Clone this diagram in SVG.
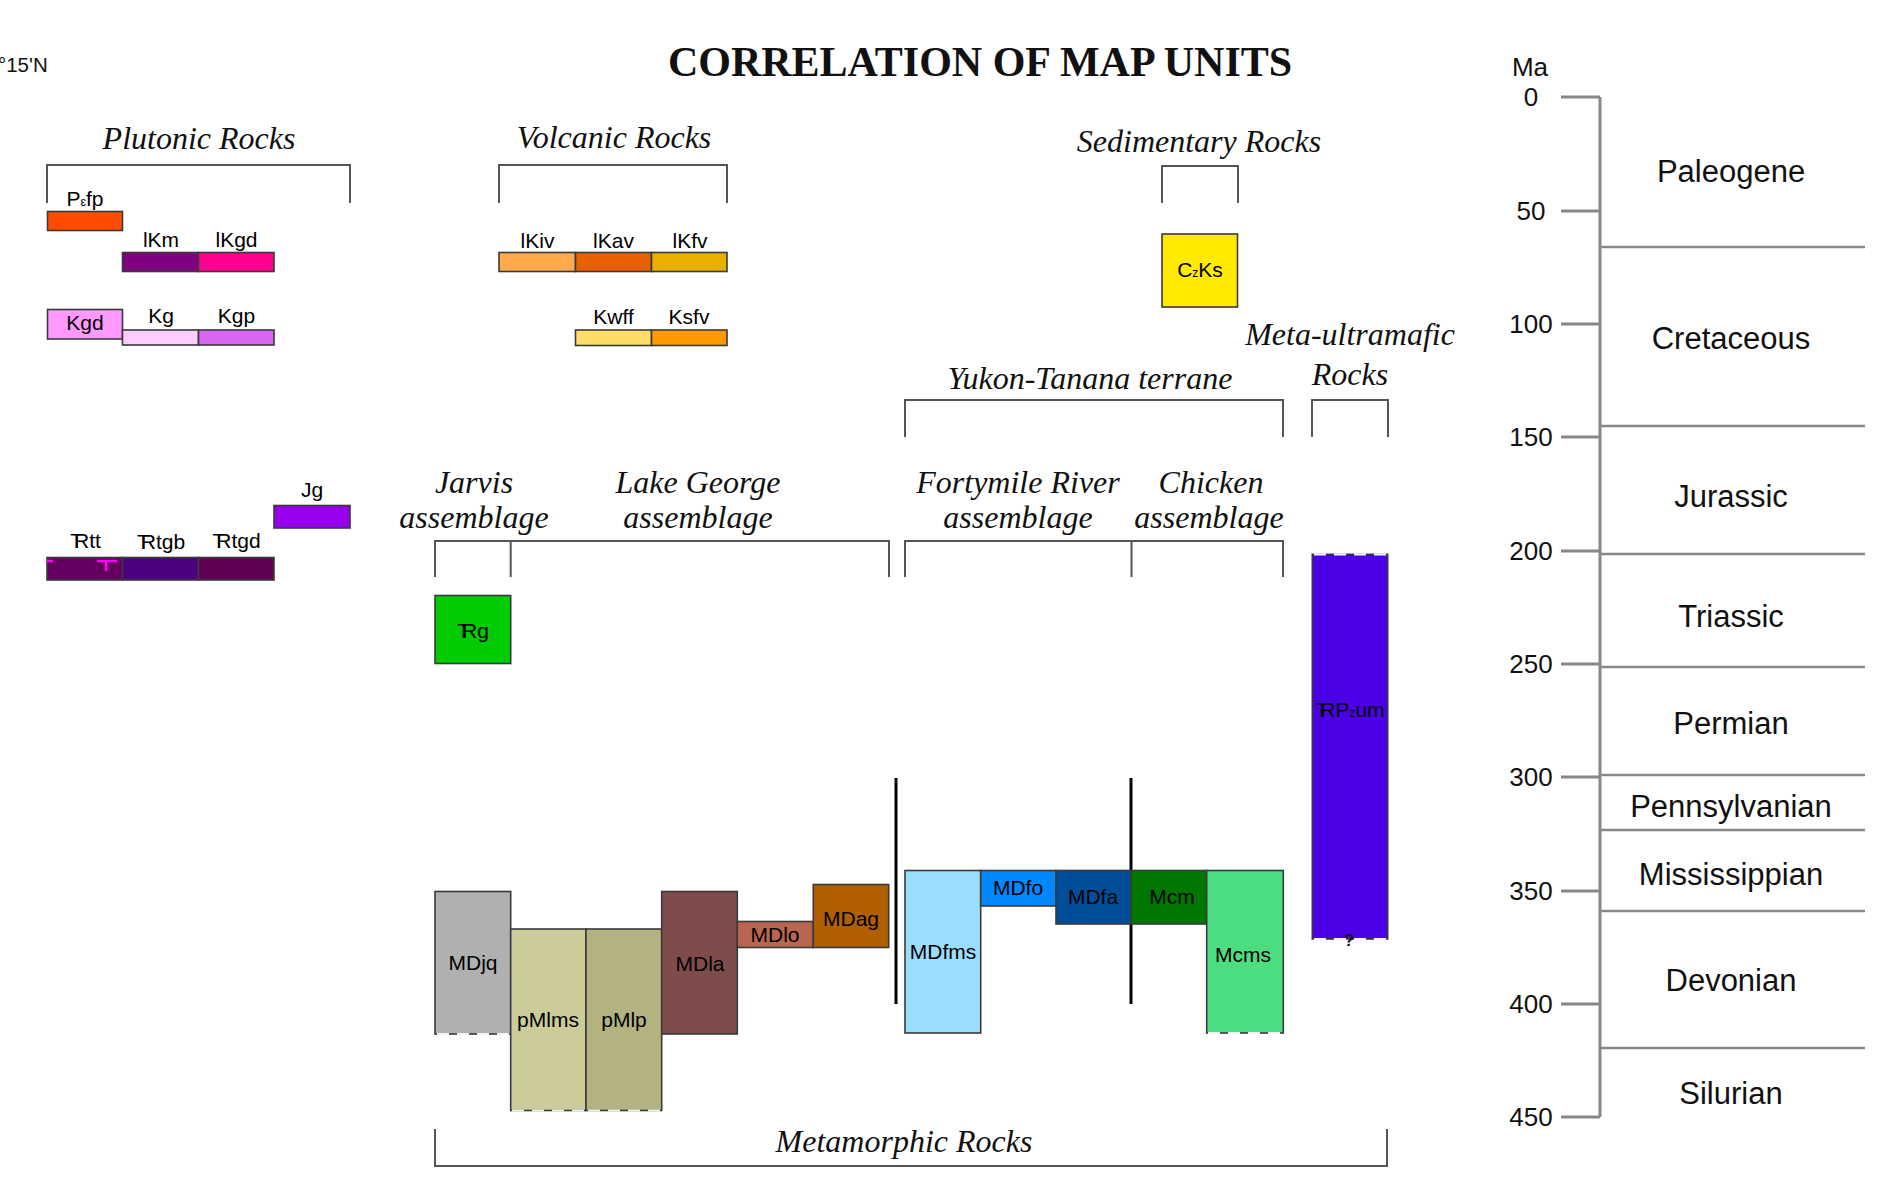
<svg xmlns="http://www.w3.org/2000/svg" width="1893" height="1203" viewBox="0 0 1893 1203">
<style>
.bg{fill:#ffffff}
.u{stroke:#3a3a3a;stroke-width:1.6}
.lbl{font-family:"Liberation Sans",Arial,sans-serif;font-size:21px;fill:#000;text-anchor:middle}
.hd{font-family:"Liberation Serif","Times New Roman",serif;font-style:italic;font-size:32px;fill:#111;text-anchor:middle}
.title{font-family:"Liberation Serif","Times New Roman",serif;font-weight:bold;font-size:42px;fill:#111;text-anchor:middle}
.br{fill:none;stroke:#555;stroke-width:2}
.dash{fill:none;stroke:#f2f2f2;stroke-width:2.2;stroke-dasharray:12 8}
.ax{fill:none;stroke:#888;stroke-width:3}
.bd{fill:none;stroke:#888;stroke-width:2.5}
.tk{font-family:"Liberation Sans",Arial,sans-serif;font-size:26px;fill:#111;text-anchor:middle}
.per{font-family:"Liberation Sans",Arial,sans-serif;font-size:31px;fill:#111;text-anchor:middle}
.sm{font-size:12px}
.tr{letter-spacing:-9px}
.fault{stroke:#000;stroke-width:3}
</style>
<rect class="bg" x="0" y="0" width="1893" height="1203"/>
<text x="-2" y="72" font-family="Liberation Sans, Arial, sans-serif" font-size="20.5" fill="#111">°15'N</text>
<text class="title" x="980" y="76">CORRELATION OF MAP UNITS</text>

<g id="headings">
<text class="hd" x="199" y="149">Plutonic Rocks</text>
<text class="hd" x="614" y="148">Volcanic Rocks</text>
<text class="hd" x="1199" y="152">Sedimentary Rocks</text>
<text class="hd" x="1350" y="345">Meta-ultramafic</text>
<text class="hd" x="1350" y="385">Rocks</text>
<text class="hd" x="1090" y="389">Yukon-Tanana terrane</text>
<text class="hd" x="474" y="493">Jarvis</text>
<text class="hd" x="474" y="528">assemblage</text>
<text class="hd" x="698" y="493">Lake George</text>
<text class="hd" x="698" y="528">assemblage</text>
<text class="hd" x="1018" y="493">Fortymile River</text>
<text class="hd" x="1018" y="528">assemblage</text>
<text class="hd" x="1211" y="493">Chicken</text>
<text class="hd" x="1209" y="528">assemblage</text>
<text class="hd" x="904" y="1152">Metamorphic Rocks</text>
</g>

<g id="connectors">
<path class="br" d="M47,203 V165 H350 V203"/>
<path class="br" d="M499,203 V165 H727 V203"/>
<path class="br" d="M1162,203 V166 H1238 V203"/>
<path class="br" d="M905,437 V400 H1283 V437"/>
<path class="br" d="M1312,437 V400 H1388 V437"/>
<path class="br" d="M435,577 V541 H889 V577 M510.7,541 V577"/>
<path class="br" d="M905,577 V541 H1283 V577 M1131.5,541 V577"/>
<path class="br" d="M435,1129 V1166 H1387 V1129"/>
<line class="fault" x1="896" y1="778" x2="896" y2="1004"/>
<line class="fault" x1="1131" y1="778" x2="1131" y2="1004"/>
</g>

<g id="plutonic">
<g id="Pefp"><rect class="u" x="47.5" y="211.5" width="75" height="19" fill="#FF4C00"/><text class="lbl" x="85" y="206">P<tspan class="sm">ɛ</tspan>fp</text></g>
<g id="lKm"><rect class="u" x="122.5" y="252.5" width="76" height="19" fill="#800080"/><text class="lbl" x="161" y="247">lKm</text></g>
<g id="lKgd"><rect class="u" x="198.5" y="252.5" width="75.5" height="19" fill="#FF0090"/><text class="lbl" x="236.5" y="247">lKgd</text></g>
<g id="Kgd"><rect class="u" x="47.5" y="309.5" width="75" height="29.5" fill="#FF99FF"/><text class="lbl" x="85" y="330">Kgd</text></g>
<g id="Kg"><rect class="u" x="122.5" y="330" width="76" height="15" fill="#FFCCFF"/><text class="lbl" x="161" y="323">Kg</text></g>
<g id="Kgp"><rect class="u" x="198.5" y="330" width="75.5" height="15" fill="#D966F2"/><text class="lbl" x="236.5" y="323">Kgp</text></g>
<g id="Jg"><rect class="u" x="274" y="505.5" width="76" height="22.5" fill="#9900EE"/><text class="lbl" x="312" y="497">Jg</text></g>
<g id="TRtt"><rect class="u" x="47" y="557.5" width="75.5" height="22.5" fill="#660060"/><path d="M47,561 h6 M97,561 h20 M106,561 v10" stroke="#FF00FF" stroke-width="2.5" fill="none"/><text class="lbl" x="85.5" y="548"><tspan class="tr">T</tspan>Rtt</text></g>
<g id="TRtgb"><rect class="u" x="122.5" y="557.5" width="76" height="22.5" fill="#4B0082"/><text class="lbl" x="161" y="549"><tspan class="tr">T</tspan>Rtgb</text></g>
<g id="TRtgd"><rect class="u" x="198.5" y="557.5" width="75.5" height="22.5" fill="#5F0055"/><text class="lbl" x="236.5" y="548"><tspan class="tr">T</tspan>Rtgd</text></g>
</g>

<g id="volcanic">
<g id="lKiv"><rect class="u" x="499" y="252.5" width="76.5" height="19" fill="#FFAA4C"/><text class="lbl" x="537.5" y="248">lKiv</text></g>
<g id="lKav"><rect class="u" x="575.5" y="252.5" width="76" height="19" fill="#E86000"/><text class="lbl" x="613.5" y="248">lKav</text></g>
<g id="lKfv"><rect class="u" x="651.5" y="252.5" width="75.5" height="19" fill="#E8B000"/><text class="lbl" x="690" y="248">lKfv</text></g>
<g id="Kwff"><rect class="u" x="575.5" y="330" width="76" height="15.5" fill="#FFDD66"/><text class="lbl" x="613.5" y="324">Kwff</text></g>
<g id="Ksfv"><rect class="u" x="651.5" y="330" width="75.5" height="15.5" fill="#FF9900"/><text class="lbl" x="689" y="324">Ksfv</text></g>
</g>

<g id="sedimentary">
<g id="CzKs"><rect class="u" x="1162" y="234" width="75.5" height="73" fill="#FFEA00"/><text class="lbl" x="1200" y="277" font-size="19">C<tspan class="sm">z</tspan>Ks</text></g>
</g>

<g id="metamorphic">
<g id="TRg"><rect class="u" x="435" y="595.5" width="75.7" height="68" fill="#00CC00"/><text class="lbl" x="473" y="638" font-size="19"><tspan letter-spacing="-8px">T</tspan>Rg</text></g>
<g id="MDjq"><rect class="u" x="435" y="891.5" width="75.7" height="142.5" fill="#B0B0B0"/><line class="dash" x1="437" y1="1034" x2="509" y2="1034"/><text class="lbl" x="473" y="970">MDjq</text></g>
<g id="pMlms"><rect class="u" x="510.7" y="929" width="75.3" height="181.5" fill="#CCCC99"/><line class="dash" x1="512" y1="1110.5" x2="585" y2="1110.5"/><text class="lbl" x="548" y="1027">pMlms</text></g>
<g id="pMlp"><rect class="u" x="586" y="929" width="75.7" height="181.5" fill="#B3B380"/><line class="dash" x1="588" y1="1110.5" x2="660" y2="1110.5"/><text class="lbl" x="624" y="1027">pMlp</text></g>
<g id="MDla"><rect class="u" x="661.7" y="891.5" width="75.6" height="142.5" fill="#7F4B4B"/><text class="lbl" x="700" y="971">MDla</text></g>
<g id="MDlo"><rect class="u" x="737.3" y="921.5" width="76" height="26" fill="#B86650"/><text class="lbl" x="775" y="942">MDlo</text></g>
<g id="MDag"><rect class="u" x="813.3" y="884.5" width="75.4" height="63" fill="#B06000"/><text class="lbl" x="851" y="926">MDag</text></g>
<g id="MDfms"><rect class="u" x="905" y="870.5" width="75.7" height="162.5" fill="#99DDFF"/><text class="lbl" x="943" y="959">MDfms</text></g>
<g id="MDfo"><rect class="u" x="980.7" y="870.5" width="75.3" height="35.5" fill="#0088FF"/><text class="lbl" x="1018" y="895">MDfo</text></g>
<g id="MDfa"><rect class="u" x="1056" y="870.5" width="75" height="53.5" fill="#004D99"/><text class="lbl" x="1093" y="904">MDfa</text></g>
<g id="Mcm"><rect class="u" x="1131" y="870.5" width="75.7" height="53.5" fill="#007700"/><text class="lbl" x="1172" y="904">Mcm</text></g>
<g id="Mcms"><rect class="u" x="1206.7" y="870.5" width="76.6" height="162.5" fill="#4CDD80"/><line class="dash" x1="1208" y1="1033" x2="1282" y2="1033"/><text class="lbl" x="1243" y="962">Mcms</text></g>
<g id="TRPzum"><rect class="u" x="1312.3" y="554.3" width="75.4" height="384.7" fill="#4C00E8"/><line class="dash" x1="1314" y1="554.3" x2="1386" y2="554.3"/><line class="dash" x1="1314" y1="939" x2="1386" y2="939"/><text class="lbl" x="1350" y="717" font-size="20"><tspan letter-spacing="-8px">T</tspan>RP<tspan class="sm">z</tspan>um</text><text x="1349" y="946" font-family="Liberation Sans, Arial, sans-serif" font-weight="bold" font-size="17" fill="#111" text-anchor="middle">?</text></g>
</g>

<g id="timescale">
<text class="tk" x="1530" y="76">Ma</text>
<path class="ax" d="M1600,97 V1117"/>
<path class="ax" d="M1561,97 H1600 M1561,211 H1600 M1561,324 H1600 M1561,437 H1600 M1561,551 H1600 M1561,664 H1600 M1561,777 H1600 M1561,891 H1600 M1561,1004 H1600 M1561,1117 H1600"/>
<path class="bd" d="M1600,247 H1865 M1600,426 H1865 M1600,554 H1865 M1600,667 H1865 M1600,775 H1865 M1600,830 H1865 M1600,911 H1865 M1600,1048 H1865"/>
<text class="tk" x="1531" y="106">0</text>
<text class="tk" x="1531" y="220">50</text>
<text class="tk" x="1531" y="333">100</text>
<text class="tk" x="1531" y="446">150</text>
<text class="tk" x="1531" y="560">200</text>
<text class="tk" x="1531" y="673">250</text>
<text class="tk" x="1531" y="786">300</text>
<text class="tk" x="1531" y="900">350</text>
<text class="tk" x="1531" y="1013">400</text>
<text class="tk" x="1531" y="1126">450</text>
<text class="per" x="1731" y="182">Paleogene</text>
<text class="per" x="1731" y="349">Cretaceous</text>
<text class="per" x="1731" y="507">Jurassic</text>
<text class="per" x="1731" y="627">Triassic</text>
<text class="per" x="1731" y="734">Permian</text>
<text class="per" x="1731" y="817">Pennsylvanian</text>
<text class="per" x="1731" y="885">Mississippian</text>
<text class="per" x="1731" y="991">Devonian</text>
<text class="per" x="1731" y="1104">Silurian</text>
</g>
</svg>
